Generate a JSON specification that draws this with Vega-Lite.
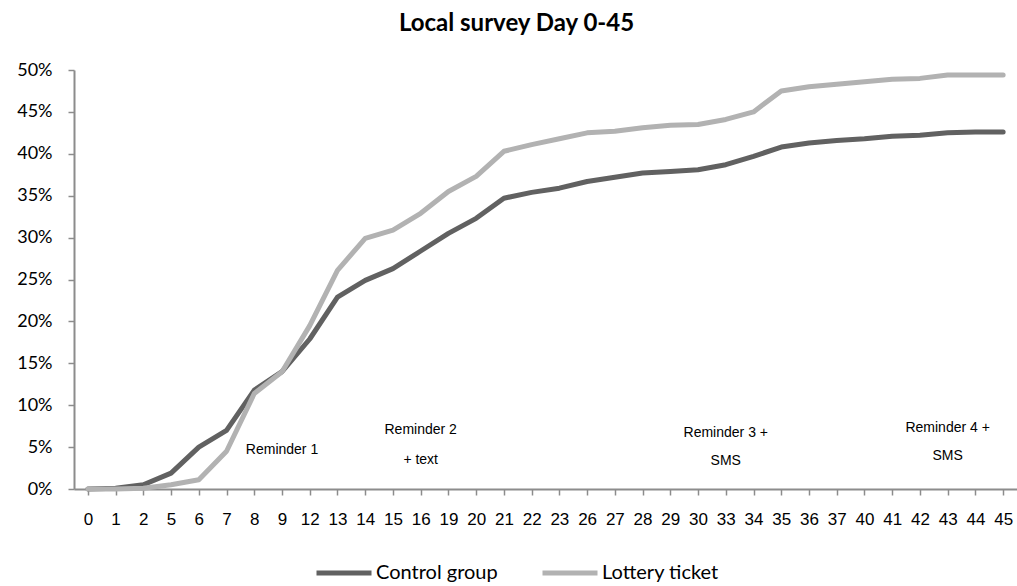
{
  "$schema": "https://vega.github.io/schema/vega-lite/v6.json",
  "autosize": "none",
  "width": 943,
  "height": 419,
  "padding": {"left": 74, "top": 70, "right": 0, "bottom": 97},
  "background": "white",
  "title": {
    "text": "Local survey Day 0-45",
    "font": "Lato",
    "fontSize": 24,
    "fontWeight": "bold",
    "color": "#000000",
    "anchor": "middle",
    "frame": "group",
    "offset": 25,
    "dx": -29
  },
  "config": {
    "view": {"stroke": null},
    "axis": {"grid": false, "domainColor": "#8c8c8c", "tickColor": "#8c8c8c", "domainWidth": 2, "tickWidth": 1.5, "tickSize": 6, "labelColor": "#000000", "title": null}
  },
  "datasets": {
    "survey": [
      {"day": 0, "group": "Control group", "rate": 0.0},
      {"day": 1, "group": "Control group", "rate": 0.001},
      {"day": 2, "group": "Control group", "rate": 0.005},
      {"day": 5, "group": "Control group", "rate": 0.019},
      {"day": 6, "group": "Control group", "rate": 0.05},
      {"day": 7, "group": "Control group", "rate": 0.07},
      {"day": 8, "group": "Control group", "rate": 0.118},
      {"day": 9, "group": "Control group", "rate": 0.14},
      {"day": 12, "group": "Control group", "rate": 0.179},
      {"day": 13, "group": "Control group", "rate": 0.229},
      {"day": 14, "group": "Control group", "rate": 0.249},
      {"day": 15, "group": "Control group", "rate": 0.263},
      {"day": 16, "group": "Control group", "rate": 0.284},
      {"day": 19, "group": "Control group", "rate": 0.305},
      {"day": 20, "group": "Control group", "rate": 0.323},
      {"day": 21, "group": "Control group", "rate": 0.347},
      {"day": 22, "group": "Control group", "rate": 0.354},
      {"day": 23, "group": "Control group", "rate": 0.359},
      {"day": 26, "group": "Control group", "rate": 0.367},
      {"day": 27, "group": "Control group", "rate": 0.372},
      {"day": 28, "group": "Control group", "rate": 0.377},
      {"day": 29, "group": "Control group", "rate": 0.379},
      {"day": 30, "group": "Control group", "rate": 0.381},
      {"day": 33, "group": "Control group", "rate": 0.387},
      {"day": 34, "group": "Control group", "rate": 0.397},
      {"day": 35, "group": "Control group", "rate": 0.408},
      {"day": 36, "group": "Control group", "rate": 0.413},
      {"day": 37, "group": "Control group", "rate": 0.416},
      {"day": 40, "group": "Control group", "rate": 0.418},
      {"day": 41, "group": "Control group", "rate": 0.421},
      {"day": 42, "group": "Control group", "rate": 0.422},
      {"day": 43, "group": "Control group", "rate": 0.425},
      {"day": 44, "group": "Control group", "rate": 0.426},
      {"day": 45, "group": "Control group", "rate": 0.426},
      {"day": 0, "group": "Lottery ticket", "rate": 0.0},
      {"day": 1, "group": "Lottery ticket", "rate": 0.0},
      {"day": 2, "group": "Lottery ticket", "rate": 0.001},
      {"day": 5, "group": "Lottery ticket", "rate": 0.005},
      {"day": 6, "group": "Lottery ticket", "rate": 0.011},
      {"day": 7, "group": "Lottery ticket", "rate": 0.045},
      {"day": 8, "group": "Lottery ticket", "rate": 0.114},
      {"day": 9, "group": "Lottery ticket", "rate": 0.14},
      {"day": 12, "group": "Lottery ticket", "rate": 0.195},
      {"day": 13, "group": "Lottery ticket", "rate": 0.261},
      {"day": 14, "group": "Lottery ticket", "rate": 0.299},
      {"day": 15, "group": "Lottery ticket", "rate": 0.309},
      {"day": 16, "group": "Lottery ticket", "rate": 0.329},
      {"day": 19, "group": "Lottery ticket", "rate": 0.355},
      {"day": 20, "group": "Lottery ticket", "rate": 0.373},
      {"day": 21, "group": "Lottery ticket", "rate": 0.403},
      {"day": 22, "group": "Lottery ticket", "rate": 0.411},
      {"day": 23, "group": "Lottery ticket", "rate": 0.418},
      {"day": 26, "group": "Lottery ticket", "rate": 0.425},
      {"day": 27, "group": "Lottery ticket", "rate": 0.427},
      {"day": 28, "group": "Lottery ticket", "rate": 0.431},
      {"day": 29, "group": "Lottery ticket", "rate": 0.434},
      {"day": 30, "group": "Lottery ticket", "rate": 0.435},
      {"day": 33, "group": "Lottery ticket", "rate": 0.441},
      {"day": 34, "group": "Lottery ticket", "rate": 0.45},
      {"day": 35, "group": "Lottery ticket", "rate": 0.475},
      {"day": 36, "group": "Lottery ticket", "rate": 0.48},
      {"day": 37, "group": "Lottery ticket", "rate": 0.483},
      {"day": 40, "group": "Lottery ticket", "rate": 0.486},
      {"day": 41, "group": "Lottery ticket", "rate": 0.489},
      {"day": 42, "group": "Lottery ticket", "rate": 0.49},
      {"day": 43, "group": "Lottery ticket", "rate": 0.494},
      {"day": 44, "group": "Lottery ticket", "rate": 0.494},
      {"day": 45, "group": "Lottery ticket", "rate": 0.494}
    ],
    "notes": [
      {"day": 9, "rate": 0.0465, "label": "Reminder 1"},
      {"day": 16, "rate": 0.07, "label": "Reminder 2"},
      {"day": 16, "rate": 0.035, "label": "+ text"},
      {"day": 33, "rate": 0.067, "label": "Reminder 3 +"},
      {"day": 33, "rate": 0.033, "label": "SMS"},
      {"day": 43, "rate": 0.073, "label": "Reminder 4 +"},
      {"day": 43, "rate": 0.039, "label": "SMS"}
    ]
  },
  "layer": [
    {
      "data": {"name": "survey"},
      "mark": {"type": "line", "strokeWidth": 5, "strokeJoin": "round", "strokeCap": "round"},
      "encoding": {
        "x": {
          "field": "day",
          "type": "ordinal",
          "scale": {"paddingInner": 0, "paddingOuter": 0},
          "axis": {"labelAngle": 0, "labelFont": "Liberation Sans", "labelFontSize": 17, "labelPadding": 16, "labelOverlap": false, "labelBound": false}
        },
        "y": {
          "field": "rate",
          "type": "quantitative",
          "scale": {"domain": [0, 0.5], "nice": false},
          "axis": {"format": ".0%", "values": [0, 0.05, 0.1, 0.15, 0.2, 0.25, 0.3, 0.35, 0.4, 0.45, 0.5], "labelFont": "Lato", "labelFontSize": 18, "labelPadding": 16}
        },
        "color": {
          "field": "group",
          "type": "nominal",
          "scale": {"domain": ["Control group", "Lottery ticket"], "range": ["#616161", "#b2b2b2"]},
          "legend": {
            "title": null,
            "orient": "none",
            "direction": "horizontal",
            "legendX": 240,
            "legendY": 473,
            "symbolType": "stroke",
            "symbolSize": 3025,
            "symbolStrokeWidth": 5,
            "labelFont": "Lato",
            "labelFontSize": 20,
            "labelColor": "#000000",
            "labelOffset": 2,
            "columnPadding": 34
          }
        }
      }
    },
    {
      "data": {"name": "notes"},
      "mark": {"type": "text", "font": "Liberation Sans", "fontSize": 14, "color": "#000000", "align": "center", "baseline": "middle"},
      "encoding": {
        "x": {"field": "day", "type": "ordinal"},
        "y": {"field": "rate", "type": "quantitative"},
        "text": {"field": "label", "type": "nominal"}
      }
    }
  ]
}
